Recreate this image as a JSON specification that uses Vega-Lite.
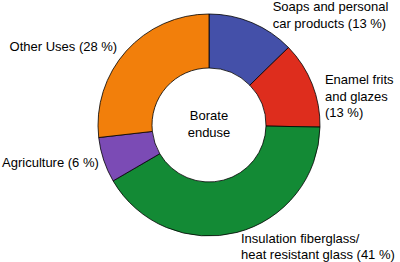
{
  "$schema": "https://vega.github.io/schema/vega-lite/v6.json",
  "width": 382,
  "height": 250,
  "autosize": "none",
  "padding": {"left": 18, "top": 0, "right": 0, "bottom": 12},
  "background": "white",
  "view": {"stroke": null},
  "config": {"font": "Liberation Sans"},
  "data": {
    "values": [
      {"idx": 1, "use": "Soaps and personal car products", "label": "Soaps and personal\ncar products (13 %)", "share": 12.7},
      {"idx": 2, "use": "Enamel frits and glazes", "label": "Enamel frits\nand glazes\n(13 %)", "share": 12.6},
      {"idx": 3, "use": "Insulation fiberglass/heat resistant glass", "label": "Insulation fiberglass/\nheat resistant glass (41 %)", "share": 41.3},
      {"idx": 4, "use": "Agriculture", "label": "Agriculture (6 %)", "share": 6.6},
      {"idx": 5, "use": "Other Uses", "label": "Other Uses (28 %)", "share": 26.8}
    ]
  },
  "encoding": {
    "theta": {"field": "share", "type": "quantitative", "stack": true},
    "order": {"field": "idx", "type": "quantitative"}
  },
  "layer": [
    {
      "mark": {"type": "arc", "radius": 111, "innerRadius": 57, "stroke": "black", "strokeWidth": 0.8},
      "encoding": {
        "color": {
          "field": "use", "type": "nominal", "legend": null,
          "scale": {
            "domain": ["Soaps and personal car products", "Enamel frits and glazes", "Insulation fiberglass/heat resistant glass", "Agriculture", "Other Uses"],
            "range": ["#4450A9", "#DE2D1D", "#138A35", "#7B4BB5", "#F27F0B"]
          }
        }
      }
    },
    {
      "mark": {"type": "text", "radius": 115, "align": "left", "baseline": "middle", "lineBreak": "\n", "lineHeight": 16.5, "fontSize": 13, "dx": 19, "dy": -12, "color": "black"},
      "encoding": {"text": {"condition": {"test": "datum.idx == 1", "field": "label"}, "value": ""}}
    },
    {
      "mark": {"type": "text", "radius": 115, "align": "left", "baseline": "middle", "lineBreak": "\n", "lineHeight": 16.5, "fontSize": 13, "dx": 9, "dy": -2.5, "color": "black"},
      "encoding": {"text": {"condition": {"test": "datum.idx == 2", "field": "label"}, "value": ""}}
    },
    {
      "mark": {"type": "text", "radius": 115, "align": "left", "baseline": "middle", "lineBreak": "\n", "lineHeight": 16, "fontSize": 13, "dx": 3, "dy": 3, "color": "black"},
      "encoding": {"text": {"condition": {"test": "datum.idx == 3", "field": "label"}, "value": ""}}
    },
    {
      "mark": {"type": "text", "radius": 115, "align": "right", "baseline": "middle", "lineBreak": "\n", "lineHeight": 16.5, "fontSize": 13, "dx": -1, "dy": 2, "color": "black"},
      "encoding": {"text": {"condition": {"test": "datum.idx == 4", "field": "label"}, "value": ""}}
    },
    {
      "mark": {"type": "text", "radius": 115, "align": "right", "baseline": "middle", "lineBreak": "\n", "lineHeight": 16.5, "fontSize": 13, "dx": -6, "dy": -1, "color": "black"},
      "encoding": {"text": {"condition": {"test": "datum.idx == 5", "field": "label"}, "value": ""}}
    },
    {
      "data": {"values": [{"t": "Borate\nenduse"}]},
      "mark": {"type": "text", "align": "center", "baseline": "middle", "lineBreak": "\n", "lineHeight": 16.5, "fontSize": 13, "dy": -9, "color": "black"},
      "encoding": {"text": {"field": "t"}, "theta": {"value": 0}, "radius": {"value": 0}, "order": null}
    }
  ]
}
